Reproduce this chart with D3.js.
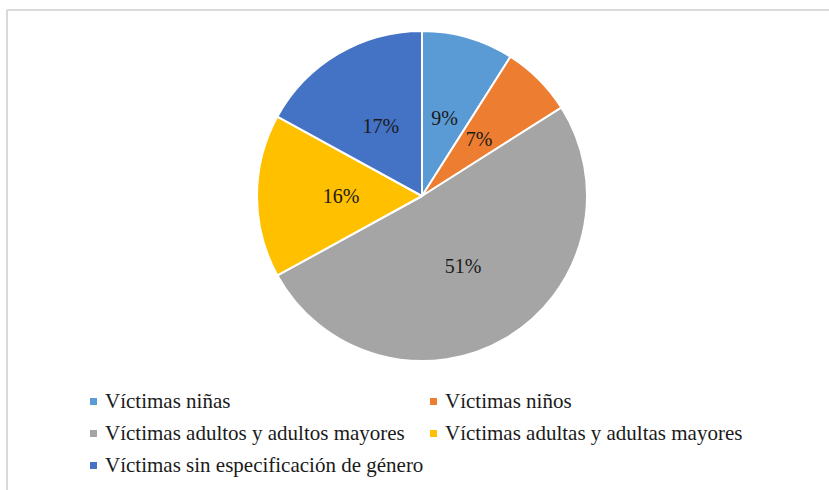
<!DOCTYPE html>
<html><head><meta charset="utf-8"><script src="https://cdn.jsdelivr.net/npm/d3@7/dist/d3.min.js"></script></head>
<body style="margin:0">
<svg id="s" width="829" height="490"></svg>
<script>
// Distribution of victims by group (percent)
const categories = [
  "Víctimas niñas",
  "Víctimas niños",
  "Víctimas adultos y adultos mayores",
  "Víctimas adultas y adultas mayores",
  "Víctimas sin especificación de género"
];
const values = [9, 7, 51, 16, 17];
const colors = ["#5b9bd5", "#ed7d31", "#a5a5a5", "#ffc000", "#4472c4"];

const svg = d3.select("#s");
const W = 829, H = 490;

// chart area frame (top and left edges visible)
svg.append("line").attr("x1", 7).attr("x2", W).attr("y1", 10).attr("y2", 10)
  .attr("stroke", "#d9d9d9").attr("stroke-width", 2);
svg.append("line").attr("x1", 7).attr("x2", 7).attr("y1", 10).attr("y2", H)
  .attr("stroke", "#d9d9d9").attr("stroke-width", 2);

const cx = 422, cy = 196, R = 165;
const data = categories.map((c, i) => ({ name: c, value: values[i], color: colors[i] }));

const pie = d3.pie().value(d => d.value).sort(null);
const arcs = pie(data);
const arc = d3.arc().innerRadius(0).outerRadius(R);
const labelArc = d3.arc().innerRadius(R * 0.49).outerRadius(R * 0.49);

arcs.forEach(d => {
  svg.append("path")
    .attr("transform", `translate(${cx},${cy})`)
    .attr("d", arc(d))
    .attr("fill", d.data.color)
    .attr("stroke", "#fff")
    .attr("stroke-width", 2)
    .attr("stroke-linejoin", "round");
});

arcs.forEach(d => {
  const [lx, ly] = labelArc.centroid(d);
  svg.append("text")
    .attr("x", cx + lx).attr("y", cy + ly + 7)
    .attr("text-anchor", "middle")
    .style("font-family", `"Liberation Serif"`)
    .attr("font-size", 20)
    .attr("fill", "#1a1a1a")
    .text(d.data.value + "%");
});

// legend: two columns, three rows
const legendCols = [90, 430];
const legendRows = [408, 440, 472];
data.forEach((d, i) => {
  const x = legendCols[i % 2];
  const y = legendRows[Math.floor(i / 2)];
  svg.append("rect").attr("x", x).attr("y", y - 10).attr("width", 7).attr("height", 7).attr("fill", d.color);
  svg.append("text")
    .attr("x", x + 15).attr("y", y)
    .style("font-family", `"Liberation Serif"`)
    .attr("font-size", 21)
    .attr("fill", "#1a1a1a")
    .text(d.name);
});
</script></body></html>
